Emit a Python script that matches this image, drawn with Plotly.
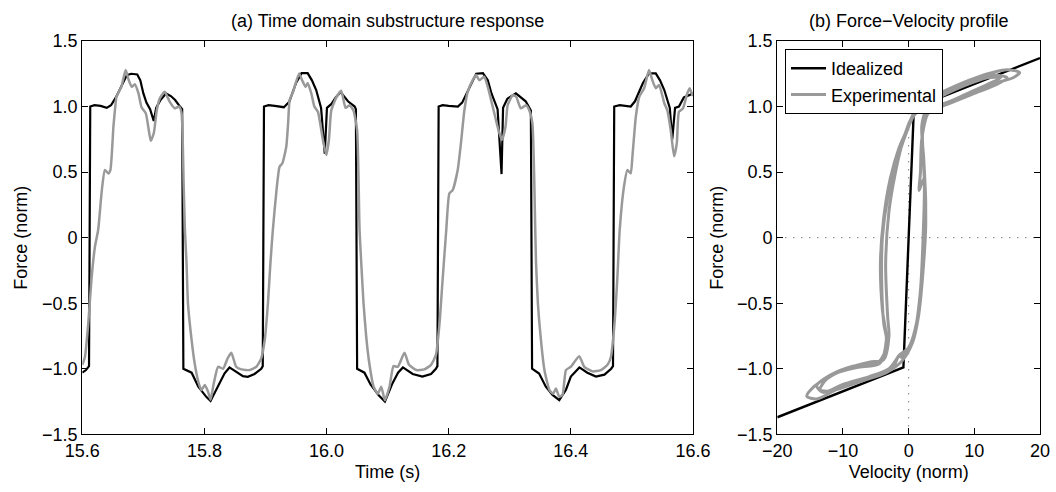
import plotly.graph_objects as go

# ---------------- data: (a) time domain ----------------
ideal_t = [15.600, 15.606, 15.611, 15.613, 15.620, 15.630, 15.640, 15.647, 15.655, 15.665, 15.673, 15.680,
           15.690, 15.695, 15.700, 15.705, 15.711, 15.717, 15.721, 15.728, 15.737, 15.745, 15.752, 15.760,
           15.7635, 15.7655, 15.779, 15.790, 15.803, 15.810, 15.822, 15.833, 15.841, 15.852, 15.863, 15.871,
           15.882, 15.893, 15.8955, 15.8975, 15.905, 15.915, 15.930, 15.939, 15.950, 15.959, 15.969, 15.976,
           15.983, 15.991, 15.997, 16.0006, 16.008, 16.015, 16.023, 16.035, 16.046, 16.048, 16.050, 16.062,
           16.072, 16.085, 16.0955, 16.108, 16.117, 16.125, 16.141, 16.157, 16.171, 16.179, 16.1815, 16.1835,
           16.190, 16.200, 16.215, 16.222, 16.235, 16.245, 16.256, 16.264, 16.270, 16.275, 16.280, 16.2865,
           16.289, 16.296, 16.310, 16.326, 16.333, 16.3345, 16.3365, 16.348, 16.359, 16.370, 16.381, 16.392,
           16.400, 16.414, 16.427, 16.441, 16.455, 16.466, 16.469, 16.471, 16.480, 16.490, 16.498, 16.505,
           16.518, 16.528, 16.539, 16.546, 16.553, 16.562, 16.566, 16.5706, 16.577, 16.585, 16.600]
ideal_f = [-1.03, -1.01, -0.98, 1.00, 1.01, 1.005, 0.99, 1.01, 1.07, 1.17, 1.24, 1.25,
           1.245, 1.20, 1.10, 1.03, 0.98, 0.89, 0.99, 1.05, 1.10, 1.08, 1.05, 1.00,
           0.98, -1.00, -1.03, -1.137, -1.214, -1.246, -1.137, -1.035, -0.99, -1.023, -1.056, -1.061,
           -1.04, -1.00, -0.98, 1.00, 1.01, 1.005, 0.995, 1.037, 1.18, 1.255, 1.255, 1.20,
           1.126, 0.99, 0.64, 0.99, 1.02, 1.07, 1.11, 1.04, 1.00, 0.98, -1.00, -1.03,
           -1.12, -1.20, -1.25, -1.11, -1.03, -0.99, -1.04, -1.06, -1.04, -1.00, -0.98, 1.00,
           1.01, 1.005, 1.00, 1.03, 1.16, 1.25, 1.255, 1.20, 1.10, 1.037, 0.98, 0.485,
           0.99, 1.06, 1.10, 1.04, 0.99, 0.97, -1.00, -1.037, -1.137, -1.20, -1.24, -1.16,
           -1.06, -0.99, -1.03, -1.06, -1.045, -1.00, -0.98, 1.00, 1.01, 1.005, 1.00, 1.04,
           1.18, 1.253, 1.253, 1.20, 1.126, 0.99, 0.75, 0.99, 1.00, 1.07, 1.10]

exp_t = [15.600, 15.6044, 15.6098, 15.615, 15.6207, 15.626, 15.632, 15.637, 15.6425, 15.646, 15.651, 15.654,
         15.656, 15.664, 15.671, 15.676, 15.681, 15.686, 15.692, 15.697, 15.704, 15.708, 15.712, 15.717,
         15.722, 15.727, 15.735, 15.743, 15.7515, 15.7586, 15.7625, 15.766, 15.768, 15.7707, 15.773, 15.779,
         15.784, 15.790, 15.795, 15.8006, 15.806, 15.810, 15.8153, 15.8223, 15.8305, 15.838, 15.844, 15.852,
         15.8606, 15.874, 15.885, 15.893, 15.8987, 15.904, 15.908, 15.912, 15.918, 15.923, 15.9276, 15.934,
         15.937, 15.9395, 15.945, 15.955, 15.960, 15.9657, 15.969, 15.975, 15.980, 15.9858, 15.994, 15.9995,
         16.0038, 16.0077, 16.016, 16.024, 16.031, 16.0377, 16.044, 16.050, 16.054, 16.0568, 16.0605, 16.065,
         16.070, 16.077, 16.084, 16.0895, 16.0955, 16.103, 16.1096, 16.1166, 16.1276, 16.135, 16.147, 16.160,
         16.171, 16.179, 16.185, 16.190, 16.196, 16.201, 16.2065, 16.2147, 16.220, 16.2256, 16.231, 16.239,
         16.245, 16.250, 16.258, 16.264, 16.272, 16.280, 16.287, 16.293, 16.2965, 16.305, 16.3105, 16.318,
         16.3265, 16.332, 16.337, 16.3417, 16.343, 16.346, 16.351, 16.3567, 16.365, 16.371, 16.3756, 16.381,
         16.3863, 16.392, 16.400, 16.4137, 16.422, 16.4355, 16.449, 16.460, 16.4656, 16.471, 16.476, 16.480,
         16.487, 16.4926, 16.498, 16.5008, 16.5063, 16.512, 16.520, 16.528, 16.5335, 16.539, 16.5445, 16.553,
         16.558, 16.5635, 16.569, 16.5735, 16.577, 16.5836, 16.5906, 16.5945, 16.598, 16.600]
exp_f = [-0.97, -0.908, -0.654, -0.32, -0.069, 0.06, 0.363, 0.516, 0.49, 0.516, 0.85, 1.00,
         1.075, 1.151, 1.278, 1.202, 1.15, 1.17, 1.10, 0.994, 0.948, 0.846, 0.739, 0.795,
         0.973, 1.063, 1.113, 1.037, 0.986, 1.00, 0.95, 0.40, 0.06, -0.196, -0.501, -0.781,
         -0.959, -1.099, -1.163, -1.124, -1.175, -1.236, -1.111, -0.985, -1.00, -0.92, -0.878, -0.985,
         -1.005, -1.01, -0.985, -0.921, -0.781, -0.50, -0.196, 0.058, 0.363, 0.54, 0.567, 0.693,
         0.872, 1.05, 1.11, 1.253, 1.20, 1.15, 1.18, 1.10, 1.00, 0.96, 0.745, 0.63,
         0.745, 0.97, 1.07, 1.12, 0.99, 1.01, 0.97, 0.82, 0.058, -0.196, -0.50, -0.76,
         -0.96, -1.137, -1.19, -1.137, -1.24, -1.137, -0.98, -0.985, -0.878, -0.97, -1.01, -1.005,
         -0.97, -0.895, -0.65, -0.32, 0.06, 0.337, 0.363, 0.516, 0.72, 0.97, 1.11, 1.20,
         1.24, 1.20, 1.227, 1.15, 1.00, 0.846, 0.745, 0.846, 1.01, 1.088, 1.075, 0.986,
         1.01, 0.97, 0.872, 0.058, -0.196, -0.50, -0.78, -1.01, -1.163, -1.19, -1.15, -1.214,
         -1.20, -1.01, -0.985, -0.904, -0.985, -1.02, -1.01, -0.97, -0.91, -0.68, -0.32, 0.06,
         0.39, 0.516, 0.49, 0.62, 0.92, 1.075, 1.14, 1.278, 1.20, 1.14, 1.164, 1.025,
         0.97, 0.82, 0.62, 0.72, 0.96, 0.986, 1.10, 1.14, 1.10, 1.08]

# ---------------- data: (b) force-velocity ----------------
ideal_v = [-20.0, -0.8, 0.8, 20.0]
ideal_fv = [-1.37, -0.99, 0.99, 1.37]

exp_v = [-1.3, 0.2, 1.2, 2.0, 2.4, 2.6, 2.3, 2.0, 2.6, 4.3, 7.8, 11.9, 15.9, 16.9, 14.9, 10.8, 6.8, 3.2, 1.0,
         -0.3, -1.5, -2.8, -3.8, -4.3, -4.0, -3.4, -4.4, -7.9, -11.5, -14.5, -15.5, -14.0, -11.0, -6.9, -3.4,
         -1.0, 0.6, 1.5, 2.2, 2.6, 2.3, 1.6, 1.8, 2.0, 3.0, 5.5, 9.0, 12.5, 14.0, 12.0, 8.5, 5.0, 2.0, 0.3,
         -0.8, -2.0, -3.0, -3.5, -3.2, -3.0, -3.8, -6.0, -9.5, -12.5, -13.5, -12.0, -9.0, -5.5, -2.5,
         -1.5, 0.0, 1.0, 1.8, 2.2, 2.4, 2.1, 2.4, 4.0, 7.0, 10.0, 13.5, 15.0, 13.0, 9.5, 6.0, 3.0, 0.8,
         -0.5, -1.8, -3.2, -4.0, -4.1, -3.8, -3.3, -4.6, -8.5, -12.0, -14.0, -13.0, -10.0, -6.0, -3.0, -1.5]
exp_fv = [-0.92, -0.82, -0.65, -0.32, 0.06, 0.25, 0.60, 0.85, 0.96, 1.00, 1.07, 1.16, 1.22, 1.26, 1.28, 1.23, 1.15, 1.06, 0.97,
          0.82, 0.68, 0.45, 0.15, -0.20, -0.55, -0.78, -0.96, -0.99, -1.04, -1.14, -1.21, -1.23, -1.16, -1.09, -1.03,
          -0.94, -0.80, -0.60, -0.25, 0.10, 0.45, 0.36, 0.50, 0.75, 0.95, 1.02, 1.10, 1.18, 1.22, 1.22, 1.16, 1.08, 1.00, 0.90,
          0.75, 0.50, 0.20, -0.20, -0.60, -0.75, -0.93, -0.95, -1.00, -1.08, -1.16, -1.17, -1.11, -1.06, -1.00,
          -0.90, -0.84, -0.70, -0.40, 0.00, 0.40, 0.80, 0.94, 0.98, 1.04, 1.10, 1.17, 1.22, 1.24, 1.20, 1.12, 1.03, 0.93,
          0.78, 0.58, 0.30, 0.00, -0.35, -0.65, -0.82, -0.95, -0.98, -1.05, -1.13, -1.18, -1.12, -1.06, -1.00, -0.90]

# ---------------- tick labels ----------------
t_ticks = [15.6, 15.8, 16.0, 16.2, 16.4, 16.6]
t_ticktext = ["15.6", "15.8", "16.0", "16.2", "16.4", "16.6"]
f_ticks = [-1.5, -1.0, -0.5, 0, 0.5, 1.0, 1.5]
f_ticktext = ["\u22121.5", "\u22121.0", "\u22120.5", "0", "0.5", "1.0", "1.5"]
v_ticks = [-20, -10, 0, 10, 20]
v_ticktext = ["\u221220", "\u221210", "0", "10", "20"]

BLACK = "#000000"
GRAY = "#999999"
FONT = "Liberation Sans, Arial, Helvetica, sans-serif"
FS = 18

fig = go.Figure()
fig.add_trace(go.Scatter(x=ideal_t, y=ideal_f, mode="lines", line=dict(color=BLACK, width=2.2),
                         showlegend=False, xaxis="x", yaxis="y"))
fig.add_trace(go.Scatter(x=exp_t, y=exp_f, mode="lines", line=dict(color=GRAY, width=2.5, shape="spline", smoothing=0.5),
                         showlegend=False, xaxis="x", yaxis="y"))
fig.add_trace(go.Scatter(x=ideal_v, y=ideal_fv, mode="lines", name="Idealized",
                         line=dict(color=BLACK, width=2.4), xaxis="x2", yaxis="y2"))
fig.add_trace(go.Scatter(x=exp_v, y=exp_fv, mode="lines", name="Experimental",
                         line=dict(color=GRAY, width=3, shape="spline", smoothing=0.8), xaxis="x2", yaxis="y2"))

# zero reference lines in panel (b)
fig.add_shape(type="line", xref="x2", yref="y2 domain", x0=0, x1=0, y0=0, y1=1,
              line=dict(color="#444444", width=1, dash="1px,7px"), layer="below")
fig.add_shape(type="line", xref="x2 domain", yref="y2", x0=0, x1=1, y0=0, y1=0,
              line=dict(color="#444444", width=1, dash="1px,7px"), layer="below")

axis_common = dict(showline=True, linecolor="black", linewidth=1.3, mirror="ticks", ticks="inside",
                   ticklen=6, tickwidth=1, tickcolor="black", showgrid=False, zeroline=False,
                   tickfont=dict(family=FONT, size=FS, color="black"), automargin=False)

ydom = [1 - 434.3 / 492, 1 - 41 / 492]
fig.update_layout(
    width=1056, height=492, margin=dict(l=0, r=0, t=0, b=0),
    paper_bgcolor="white", plot_bgcolor="white",
    font=dict(family=FONT, size=FS, color="black"),
    xaxis=dict(axis_common, domain=[82.3 / 1056, 693 / 1056], range=[15.6, 16.6],
               tickvals=t_ticks, ticktext=t_ticktext,
               title=dict(text="Time (s)", standoff=5, font=dict(family=FONT, size=FS))),
    yaxis=dict(axis_common, domain=ydom, range=[-1.5, 1.5], tickvals=f_ticks, ticktext=f_ticktext,
               title=dict(text="Force (norm)", standoff=9, font=dict(family=FONT, size=FS))),
    xaxis2=dict(axis_common, domain=[777.3 / 1056, 1040 / 1056], range=[-20, 20], anchor="y2",
                tickvals=v_ticks, ticktext=v_ticktext,
                title=dict(text="Velocity (norm)", standoff=5, font=dict(family=FONT, size=FS))),
    yaxis2=dict(axis_common, domain=ydom, range=[-1.5, 1.5], anchor="x2", tickvals=f_ticks, ticktext=f_ticktext,
                title=dict(text="Force (norm)", standoff=8, font=dict(family=FONT, size=FS))),
    legend=dict(x=785 / 1056, y=1 - 49 / 492, xanchor="left", yanchor="top", bgcolor="white",
                bordercolor="black", borderwidth=1, font=dict(family=FONT, size=FS), itemwidth=35,
                tracegroupgap=0),
    annotations=[
        dict(text="(a) Time domain substructure response", x=(82.3 + 693) / 2 / 1056, y=1 - 21 / 492,
             xref="paper", yref="paper", xanchor="center", yanchor="middle", showarrow=False,
             font=dict(family=FONT, size=FS)),
        dict(text="(b) Force\u2212Velocity profile", x=(777.3 + 1040) / 2 / 1056, y=1 - 21 / 492,
             xref="paper", yref="paper", xanchor="center", yanchor="middle", showarrow=False,
             font=dict(family=FONT, size=FS)),
    ],
)

fig.write_html("out.html")
